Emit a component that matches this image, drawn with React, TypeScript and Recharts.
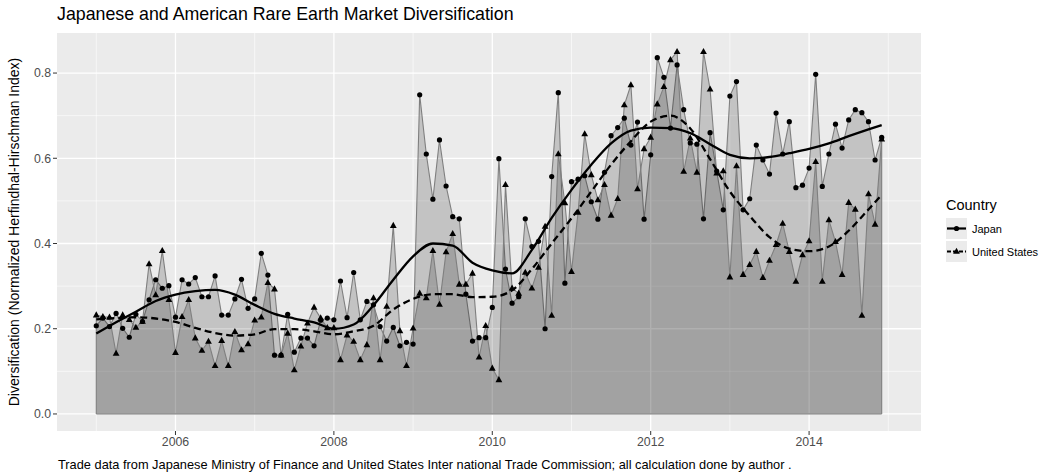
import { ComposedChart, Area, Line, XAxis, YAxis, CartesianGrid, ReferenceLine } from "recharts"

// monthly values, Jan 2005 .. Dec 2014
const startYear = 2005

const japan = [
  0.207, 0.225, 0.205, 0.236, 0.201, 0.18, 0.234, 0.217, 0.268, 0.315, 0.295, 0.301,
  0.227, 0.315, 0.305, 0.32, 0.275, 0.275, 0.324, 0.232, 0.232, 0.27, 0.316, 0.248,
  0.27, 0.377, 0.326, 0.138, 0.138, 0.234, 0.145, 0.178, 0.178, 0.16, 0.22, 0.225,
  0.221, 0.312, 0.226, 0.332, 0.221, 0.264, 0.256, 0.205, 0.171, 0.203, 0.16, 0.168,
  0.164, 0.749, 0.61, 0.504, 0.643, 0.535, 0.463, 0.458, 0.281, 0.171, 0.179, 0.179,
  0.25, 0.599, 0.34, 0.26, 0.275, 0.458, 0.393, 0.405, 0.2, 0.557, 0.754, 0.307,
  0.545, 0.551, 0.559, 0.498, 0.457, 0.567, 0.653, 0.672, 0.694, 0.631, 0.685, 0.457,
  0.608, 0.836, 0.79, 0.671, 0.819, 0.714, 0.636, 0.633, 0.458, 0.66, 0.57, 0.479,
  0.746, 0.78, 0.479, 0.505, 0.631, 0.596, 0.563, 0.706, 0.61, 0.686, 0.531, 0.537,
  0.577, 0.797, 0.534, 0.61, 0.68, 0.624, 0.69, 0.714, 0.707, 0.686, 0.596, 0.649,
]

const unitedStates = [
  0.232, 0.228, 0.227, 0.142, 0.232, 0.221, 0.203, 0.217, 0.352, 0.279, 0.383, 0.268,
  0.144, 0.228, 0.268, 0.178, 0.149, 0.17, 0.113, 0.172, 0.113, 0.193, 0.15, 0.164,
  0.22, 0.227, 0.308, 0.293, 0.138, 0.189, 0.103, 0.159, 0.213, 0.25, 0.225, 0.202,
  0.202, 0.127, 0.185, 0.17, 0.127, 0.162, 0.272, 0.127, 0.252, 0.442, 0.195, 0.113,
  0.201, 0.283, 0.272, 0.383, 0.257, 0.38, 0.423, 0.304, 0.304, 0.33, 0.133, 0.207,
  0.107, 0.08, 0.538, 0.295, 0.283, 0.332, 0.295, 0.344, 0.44, 0.231, 0.61, 0.495,
  0.334, 0.473, 0.657, 0.561, 0.502, 0.538, 0.466, 0.505, 0.725, 0.772, 0.528, 0.622,
  0.649, 0.727, 0.768, 0.831, 0.85, 0.569, 0.647, 0.567, 0.85, 0.762, 0.565, 0.57,
  0.321, 0.582, 0.327, 0.35, 0.381, 0.32, 0.36, 0.397, 0.447, 0.381, 0.311, 0.373,
  0.406, 0.592, 0.311, 0.455, 0.404, 0.327, 0.496, 0.48, 0.231, 0.516, 0.445, 0.645,
]

// smoothed trend (month index -> value)
const smoothMonths = [
  0, 3, 6, 9, 12, 15, 18, 21, 24, 27, 30, 33, 36, 39, 42, 45, 48, 51, 54, 57,
  60, 63, 66, 69, 72, 75, 78, 81, 84, 87, 90, 93, 96, 99, 102, 105, 108, 111, 114, 117, 119,
]
const japanSmooth = [
  0.189, 0.215, 0.24, 0.265, 0.28, 0.288, 0.291, 0.28, 0.256, 0.235, 0.224, 0.215, 0.2, 0.21,
  0.255, 0.315, 0.37, 0.4, 0.395, 0.355, 0.337, 0.33, 0.385, 0.46, 0.526, 0.585, 0.635, 0.665,
  0.672, 0.671, 0.659, 0.633, 0.608, 0.6, 0.603, 0.612, 0.622, 0.635, 0.652, 0.668, 0.678,
]
const usSmooth = [
  0.222, 0.225, 0.227, 0.224, 0.216, 0.202, 0.19, 0.184, 0.187, 0.199, 0.199, 0.194, 0.187, 0.194,
  0.207, 0.245, 0.27, 0.281, 0.281, 0.274, 0.275, 0.29, 0.34, 0.4, 0.459, 0.522, 0.585, 0.64,
  0.686, 0.7, 0.67, 0.598, 0.522, 0.465, 0.415, 0.388, 0.382, 0.393, 0.43, 0.48, 0.514,
]

const xTicks = [2006, 2008, 2010, 2012, 2014]
const xMinor = [2005, 2007, 2009, 2011, 2013, 2015]
const yTicks = [0, 0.2, 0.4, 0.6, 0.8]
const yMinor = [0.1, 0.3, 0.5, 0.7]

const data = japan.map((v, i) => {
  const k = smoothMonths.indexOf(i)
  return {
    date: startYear + i / 12,
    japan: v,
    us: unitedStates[i],
    japanSmooth: k >= 0 ? japanSmooth[k] : null,
    usSmooth: k >= 0 ? usSmooth[k] : null,
  }
})

const firstX = data[0].date
const lastX = data[data.length - 1].date
const edgeColor = "#7f7f7f"
const font = "'Liberation Sans', Arial, sans-serif"

const renderCircle = (props: any) => {
  const { cx, cy, index } = props
  return <circle key={`c${index}`} cx={cx} cy={cy} r={2.6} fill="#000" />
}

const renderTriangle = (props: any) => {
  const { cx, cy, index } = props
  return (
    <polygon
      key={`t${index}`}
      points={`${cx},${cy - 3.8} ${cx - 3.4},${cy + 2.3} ${cx + 3.4},${cy + 2.3}`}
      fill="#000"
    />
  )
}

function LegendKey({ dashed }: { dashed?: boolean }) {
  return (
    <svg width={21} height={21} style={{ display: "block" }}>
      <rect width={21} height={21} fill="#EBEBEB" />
      <line x1={1} y1={10.5} x2={20} y2={10.5} stroke="#000" strokeWidth={2.2} strokeDasharray={dashed ? "4 2" : undefined} />
      {dashed ? (
        <polygon points="10.5,6.7 7.1,12.8 13.9,12.8" fill="#000" />
      ) : (
        <circle cx={10.5} cy={10.5} r={2.6} fill="#000" />
      )}
    </svg>
  )
}

export default function App() {
  return (
    <div style={{ position: "relative", width: 1053, height: 476, background: "#fff", fontFamily: font }}>
      <style>{`body{margin:0}`}</style>
      <div style={{ position: "absolute", left: 57, top: 4, fontSize: 17.8, color: "#000", whiteSpace: "nowrap" }}>
        Japanese and American Rare Earth Market Diversification
      </div>
      <div
        style={{
          position: "absolute",
          left: 14,
          top: 232,
          transform: "translate(-50%, -50%) rotate(-90deg)",
          fontSize: 14,
          whiteSpace: "nowrap",
          color: "#000",
        }}
      >
        Diversification (Normalized Herfindhal-Hirschman Index)
      </div>
      <div style={{ position: "absolute", left: 58, top: 457, fontSize: 12.8, whiteSpace: "nowrap", color: "#000" }}>
        Trade data from Japanese Ministry of Finance and United States Inter national Trade Commission; all calculation done by author .
      </div>
      <div style={{ position: "absolute", left: 946, top: 197, color: "#000" }}>
        <div style={{ fontSize: 14.5, marginBottom: 4 }}>Country</div>
        <div style={{ display: "flex", alignItems: "center", height: 23, fontSize: 11 }}>
          <LegendKey />
          <span style={{ marginLeft: 5 }}>Japan</span>
        </div>
        <div style={{ display: "flex", alignItems: "center", height: 23, fontSize: 11 }}>
          <LegendKey dashed />
          <span style={{ marginLeft: 5 }}>United States</span>
        </div>
      </div>
      <div style={{ position: "absolute", left: 0, top: 0 }}>
        <ComposedChart width={1053} height={476} data={data} margin={{ top: 33, right: 132, left: 0, bottom: 0 }}>
          <CartesianGrid fill="#EBEBEB" stroke="#fff" strokeWidth={0.6} horizontalValues={yMinor} verticalValues={xMinor} />
          <CartesianGrid stroke="#fff" strokeWidth={1.3} horizontalValues={yTicks} verticalValues={xTicks} />
          <XAxis
            dataKey="date"
            type="number"
            domain={[2004.504, 2015.413]}
            ticks={xTicks}
            allowDataOverflow
            axisLine={false}
            tickLine={{ stroke: "#333" }}
            tickSize={4}
            tickMargin={2}
            height={45}
            tick={{ fill: "#4D4D4D", fontSize: 12.3, fontFamily: font }}
          />
          <YAxis
            type="number"
            domain={[-0.04, 0.894]}
            ticks={yTicks}
            allowDataOverflow
            axisLine={false}
            tickLine={{ stroke: "#333" }}
            tickSize={4}
            tickMargin={2}
            width={57}
            tickFormatter={(v: number) => v.toFixed(1)}
            tick={{ fill: "#4D4D4D", fontSize: 12.3, fontFamily: font }}
          />
          <Area
            type="linear"
            dataKey="japan"
            baseValue={0}
            stroke={edgeColor}
            strokeWidth={1.1}
            fill="#000"
            fillOpacity={0.17}
            dot={renderCircle}
            activeDot={false}
            isAnimationActive={false}
          />
          <Area
            type="linear"
            dataKey="us"
            baseValue={0}
            stroke={edgeColor}
            strokeWidth={1.1}
            fill="#000"
            fillOpacity={0.17}
            dot={renderTriangle}
            activeDot={false}
            isAnimationActive={false}
          />
          <ReferenceLine segment={[{ x: firstX, y: 0 }, { x: lastX, y: 0 }]} stroke={edgeColor} strokeWidth={1.1} />
          <ReferenceLine segment={[{ x: firstX, y: 0 }, { x: firstX, y: Math.max(japan[0], unitedStates[0]) }]} stroke={edgeColor} strokeWidth={1.1} />
          <ReferenceLine
            segment={[{ x: lastX, y: 0 }, { x: lastX, y: Math.max(japan[japan.length - 1], unitedStates[unitedStates.length - 1]) }]}
            stroke={edgeColor}
            strokeWidth={1.1}
          />
          <Line
            type="monotone"
            dataKey="japanSmooth"
            stroke="#000"
            strokeWidth={2.3}
            dot={false}
            activeDot={false}
            connectNulls
            isAnimationActive={false}
          />
          <Line
            type="monotone"
            dataKey="usSmooth"
            stroke="#000"
            strokeWidth={2.3}
            strokeDasharray="7 4"
            dot={false}
            activeDot={false}
            connectNulls
            isAnimationActive={false}
          />
        </ComposedChart>
      </div>
    </div>
  )
}
